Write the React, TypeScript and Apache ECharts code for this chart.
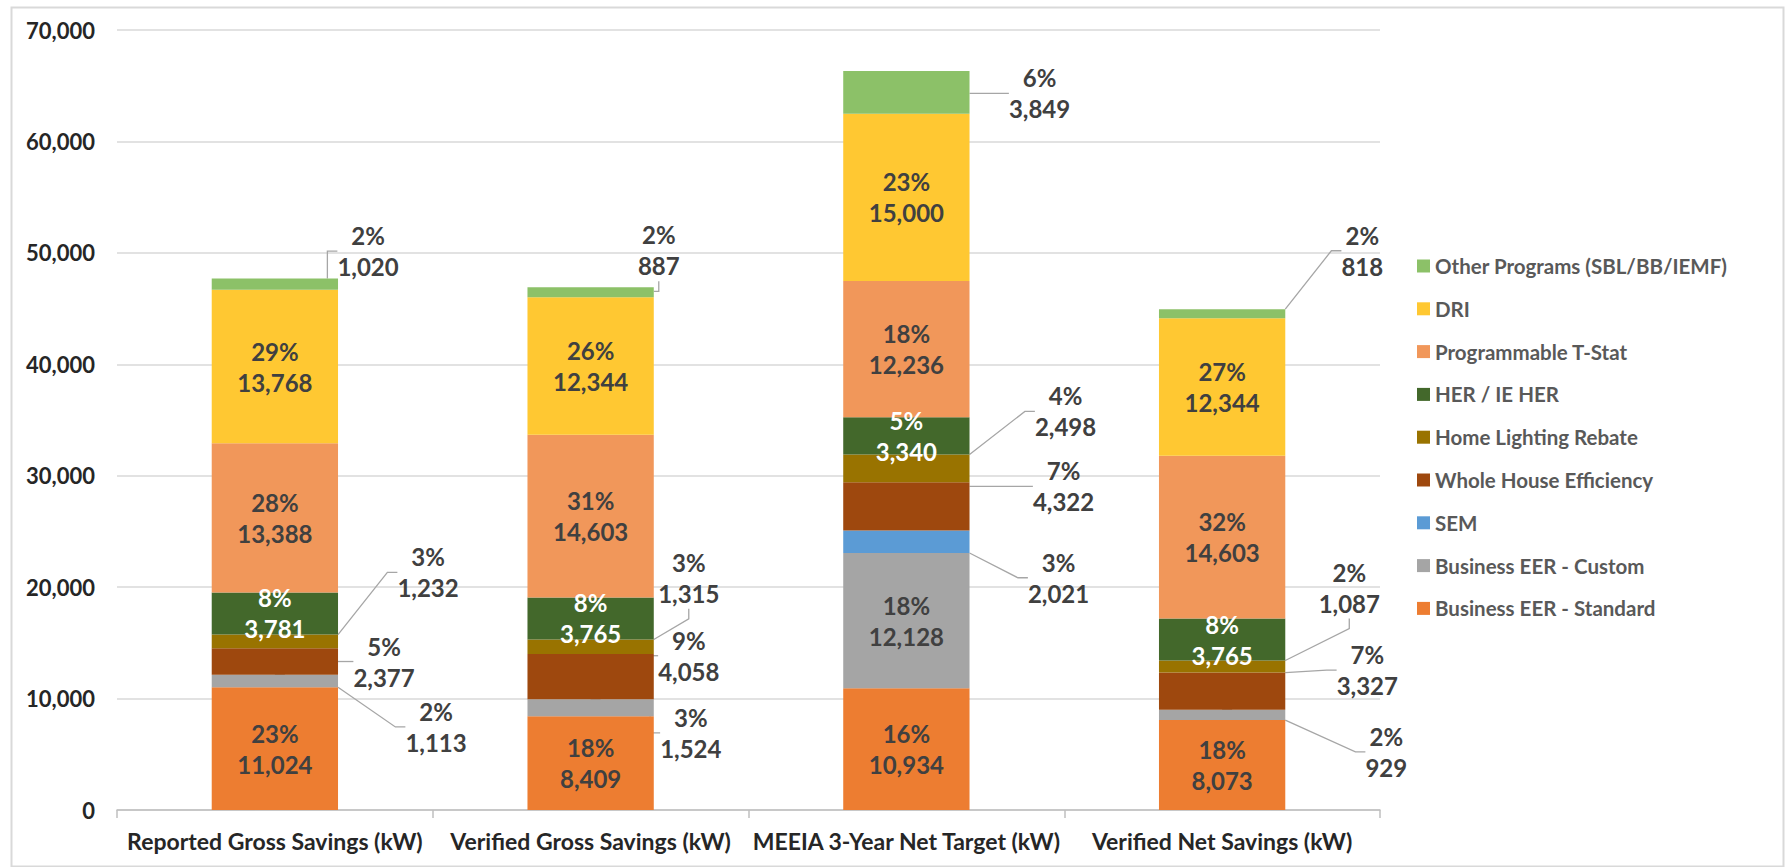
import React, { useEffect, useRef } from 'react';
import * as echarts from 'echarts';

// Categories along the x axis
const categories = [
  'Reported Gross Savings (kW)',
  'Verified Gross Savings (kW)',
  'MEEIA 3-Year Net Target (kW)',
  'Verified Net Savings (kW)',
];

// Demand savings per program (kW), one value per category
const businessStandard = [11024, 8409, 10934, 8073];
const businessCustom = [1113, 1524, 12128, 929];
const sem = [0, 0, 2021, 0];
const wholeHouse = [2377, 4058, 4322, 3327];
const homeLighting = [1232, 1315, 2498, 1087];
const herIeHer = [3781, 3765, 3340, 3765];
const programmableTStat = [13388, 14603, 12236, 14603];
const dri = [13768, 12344, 15000, 12344];
const otherPrograms = [1020, 887, 3849, 818];

// Y axis ticks
const yTicks = [0, 10000, 20000, 30000, 40000, 50000, 60000, 70000];

const FONT = 'Lato, "Open Sans", sans-serif';
const TEXT_DARK = '#404040';

type Offset = [number, number] | null;

// Callout offsets for small segments: from the bar's right edge and the segment's middle
const seriesDefs: {
  name: string;
  data: number[];
  color: string;
  labelColor?: string;
  callouts: Offset[];
}[] = [
  { name: 'Business EER - Standard', data: businessStandard, color: '#ED7D31', callouts: [null, null, null, null] },
  { name: 'Business EER - Custom', data: businessCustom, color: '#A5A5A5', callouts: [[98, 46], [37, 25], null, [101, 37]] },
  { name: 'SEM', data: sem, color: '#5B9BD5', callouts: [null, null, [89, 36], null] },
  { name: 'Whole House Efficiency', data: wholeHouse, color: '#9E480E', callouts: [[46, 0], [35, -21], [94, -20], [82, -21]] },
  { name: 'Home Lighting Rebate', data: homeLighting, color: '#997300', callouts: [[90, -69], [35, -69], [96, -57], [64, -79]] },
  { name: 'HER / IE HER', data: herIeHer, color: '#43682B', labelColor: '#FFFFFF', callouts: [null, null, null, null] },
  { name: 'Programmable T-Stat', data: programmableTStat, color: '#F1975A', callouts: [null, null, null, null] },
  { name: 'DRI', data: dri, color: '#FFC832', callouts: [null, null, null, null] },
  { name: 'Other Programs (SBL/BB/IEMF)', data: otherPrograms, color: '#8CC168', callouts: [[30, -33], [5, -42], [70, 1], [77, -63]] },
];

const totals = categories.map((_, i) => seriesDefs.reduce((s, d) => s + d.data[i], 0));
const fmt = (v: number) => v.toLocaleString('en-US');

export default function App() {
  const ref = useRef<HTMLDivElement>(null);

  useEffect(() => {
    document.body.style.margin = '0';
    const chart = echarts.init(ref.current!, null, { renderer: 'svg' });

    const option: any = {
      animation: false,
      backgroundColor: '#ffffff',
      grid: { left: 117, top: 30, width: 1263, bottom: 57, containLabel: false },
      legend: {
        orient: 'vertical',
        left: 1412,
        top: 250,
        itemWidth: 13,
        itemHeight: 13,
        itemGap: 20.8,
        icon: 'rect',
        data: seriesDefs.map((d) => d.name).reverse(),
        textStyle: { fontFamily: FONT, fontWeight: 'bold', fontSize: 20.5, lineHeight: 22, color: '#595959' },
      },
      xAxis: {
        type: 'category',
        data: categories,
        axisLine: { lineStyle: { color: '#bfbfbf', width: 1.5 } },
        axisTick: { show: true, length: 8, lineStyle: { color: '#bfbfbf', width: 1.5 } },
        axisLabel: {
          interval: 0,
          fontFamily: FONT,
          fontWeight: 'bold',
          fontSize: 23,
          color: '#262626',
          margin: 19,
        },
      },
      yAxis: {
        type: 'value',
        min: yTicks[0],
        max: yTicks[yTicks.length - 1],
        interval: yTicks[1] - yTicks[0],
        axisLine: { show: false },
        axisTick: { show: false },
        splitLine: { lineStyle: { color: '#d9d9d9', width: 1.5 } },
        axisLabel: {
          fontFamily: FONT,
          fontWeight: 'bold',
          fontSize: 22,
          color: '#262626',
          margin: 22,
          formatter: (v: number) => fmt(v),
        },
      },
      graphic: [
        {
          type: 'rect',
          left: 9,
          top: 5,
          shape: { width: 1772, height: 859 },
          style: { fill: 'none', stroke: '#d9d9d9', lineWidth: 2 },
          silent: true,
        },
      ],
      series: seriesDefs.map((def) => ({
        type: 'bar',
        name: def.name,
        stack: 'total',
        barWidth: '40%',
        itemStyle: { color: def.color },
        data: def.data,
        label: {
          show: true,
          position: 'inside',
          formatter: (p: any) =>
            p.value ? `${Math.round((p.value / totals[p.dataIndex]) * 100)}%\n${fmt(p.value)}` : '',
          color: def.labelColor || TEXT_DARK,
          fontFamily: FONT,
          fontWeight: 'bold',
          fontSize: 24,
          lineHeight: 31,
        },
        labelLine: { show: true, length2: 10, lineStyle: { color: '#a6a6a6', width: 1.3 } },
        labelLayout: (params: any) => {
          const off = def.callouts[params.dataIndex];
          if (!off) return {};
          const r = params.rect;
          return {
            x: r.x + r.width + off[0],
            y: r.y + r.height / 2 + off[1],
            align: 'center',
            verticalAlign: 'middle',
          };
        },
      })),
    };

    chart.setOption(option);
    return () => chart.dispose();
  }, []);

  return <div ref={ref} style={{ width: 1788, height: 867 }} />;
}
